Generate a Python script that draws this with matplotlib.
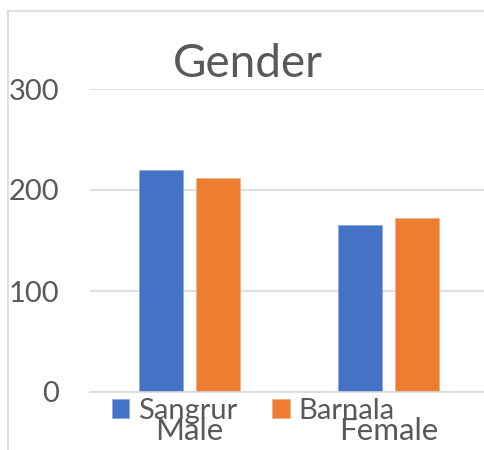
import matplotlib.pyplot as plt
import numpy as np
from matplotlib.lines import Line2D

categories = ['Male', 'Female']
sangrur = [220, 165]
barnala = [212, 172]
series_names = ['Sangrur', 'Barnala']
y_ticks = [0, 100, 200, 300]

plt.rcParams['font.family'] = ['Lato', 'DejaVu Sans']
text_color = '#595959'
grid_color = '#d9d9d9'

fig = plt.figure(figsize=(4.85, 4.5), dpi=100)
ax = fig.add_axes([90 / 485, 58 / 450, 398 / 485, (392 - 89) / 450])

x = np.arange(len(categories)) + 0.5
width = 0.221
gap = 0.065
ax.bar(x - (width + gap) / 2, sangrur, width, color='#4472C4', label=series_names[0],
       edgecolor='#8faadc', linewidth=0.6)
ax.bar(x + (width + gap) / 2, barnala, width, color='#ED7D31', label=series_names[1],
       edgecolor='#f4b183', linewidth=0.6)

ax.set_xlim(0, len(categories))
ax.set_ylim(0, 300)
ax.set_yticks(y_ticks)
ax.set_xticks(x)
ax.set_xticklabels(categories, fontsize=22.5)
ax.yaxis.grid(True, color=grid_color, linewidth=1.2)
ax.set_axisbelow(True)
for side in ['top', 'right', 'left']:
    ax.spines[side].set_visible(False)
ax.spines['bottom'].set_color(grid_color)
ax.spines['bottom'].set_linewidth(1.2)
ax.tick_params(axis='both', length=0, labelcolor=text_color)
ax.tick_params(axis='y', pad=22, labelsize=21)
ax.tick_params(axis='x', pad=18)

fig.text(248 / 485, 1 - 64 / 450, 'Gender', ha='center', va='center',
         fontsize=33, color=text_color)

fig.legend(loc='center', bbox_to_anchor=(253 / 485, 1 - 411 / 450), ncol=2, frameon=False,
           fontsize=21, labelcolor=text_color, handlelength=0.6, handleheight=0.6,
           handletextpad=0.3, columnspacing=1.2, borderpad=0)

# chart area border (left and top edges visible)
fig.add_artist(Line2D([8 / 485, 8 / 485], [0, 1 - 11 / 450], transform=fig.transFigure,
                      color=grid_color, linewidth=1.2))
fig.add_artist(Line2D([8 / 485, 1], [1 - 11 / 450, 1 - 11 / 450], transform=fig.transFigure,
                      color=grid_color, linewidth=1.2))

plt.savefig('out.png', dpi=100)
plt.close()
